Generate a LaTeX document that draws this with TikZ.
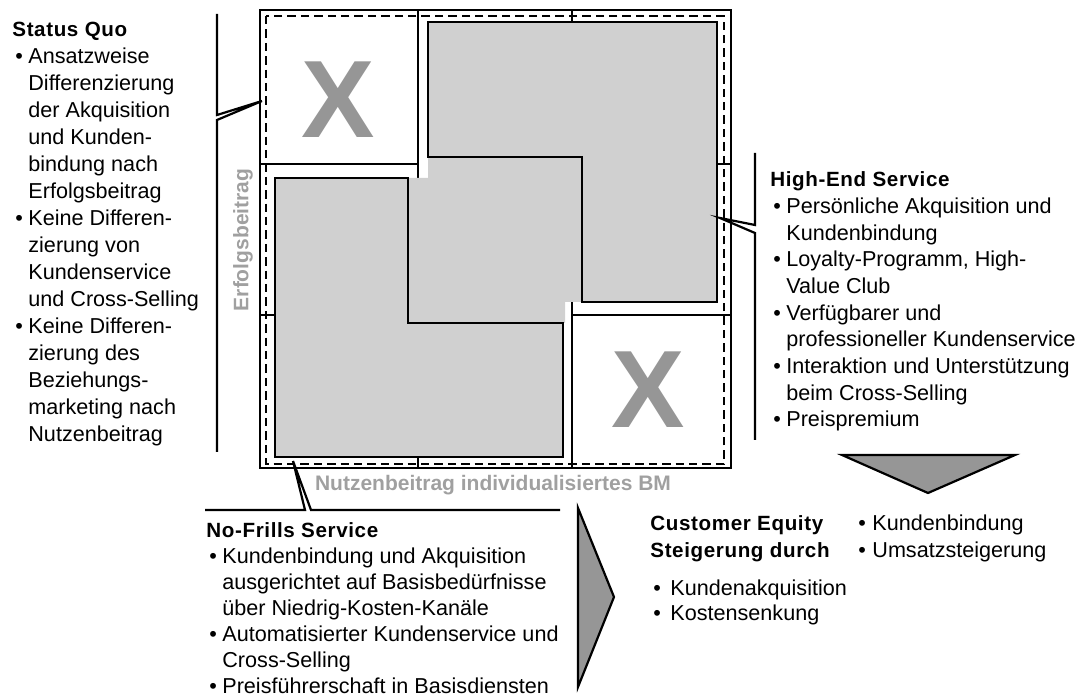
\documentclass[tikz,border=0pt]{standalone}
\usepackage{fontspec}
\setmainfont{Liberation Sans}
\newfontfamily\headfont{Liberation Sans}[LetterSpace=3]
\usetikzlibrary{positioning}
\definecolor{segfill}{RGB}{208,208,208}
\definecolor{markgray}{RGB}{150,150,150}
\definecolor{axisgray}{RGB}{160,160,160}
\definecolor{arrowgray}{RGB}{150,150,150}
\tikzset{
  % base anchor of a multi-line node sits on its last line
  txt/.style={anchor=base west, inner sep=0pt, align=left,
              font=\fontsize{10.8}{13.5}\selectfont},
  frame/.style={line width=1.1pt},
  gridline/.style={line width=0.9pt},
  dashframe/.style={line width=1.2pt, dash pattern=on 4.2pt off 2.5pt},
  segment/.style={draw, fill=segfill, line width=1.2pt},
  xmark/.style={font=\fontsize{55}{55}\selectfont\bfseries, text=markgray, inner sep=0pt},
  axislabel/.style={font=\fontsize{10.5}{12}\selectfont\bfseries, text=axisgray, inner sep=0pt},
  bracket/.style={line width=1.1pt},
  bigarrow/.style={draw, fill=arrowgray, line width=1.1pt, line join=miter},
}
\newcommand{\hd}[1]{{\headfont\bfseries\fontsize{10.3}{13.5}\selectfont #1}}
\newcommand{\bl}{\hspace*{1.5pt}\makebox[6.5pt][l]{\textbullet}}
\newcommand{\cl}{\hspace*{8pt}}

\begin{document}
\begin{tikzpicture}[x=0.5pt, y=-0.5pt]
  \useasboundingbox (0,0) rectangle (1091,699);

  % --- portfolio frame and 3x3 grid ---
  \draw[frame] (260,10) rectangle (731,468);
  \draw[gridline] (418,10) -- (418,178)  (418,457) -- (418,468)
                  (572,10) -- (572,22)   (572,302) -- (572,468)
                  (260,164) -- (418,164) (717,164) -- (731,164)
                  (260,315) -- (275,315) (572,315) -- (731,315);
  \draw[dashframe] (266,16) rectangle (724,464);

  % --- service segments ---
  \fill[segfill] (428,157) -- (582,157) -- (582,302) -- (565,302) -- (565,323)
                 -- (408,323) -- (408,178) -- (428,178) -- cycle;
  \draw[segment] (428,22) -- (717,22) -- (717,302) -- (582,302) -- (582,157)
                 -- (428,157) -- cycle;
  \draw[segment] (275,178) -- (408,178) -- (408,323) -- (563,323) -- (563,457)
                 -- (275,457) -- cycle;
  \node[xmark] (xtl) at (338,100) {X};
  \node[xmark] (xbr) at (648,390) {X};

  % --- axes ---
  \node[axislabel] (xlab) at (493,485) {Nutzenbeitrag individualisiertes BM};
  \node[axislabel, rotate=90] (ylab) at (243,240) {Erfolgsbeitrag};

  % --- Status Quo ---
  \node[txt] (sq) at (12,442) {\hd{Status Quo}\\
    \bl Ansatzweise\\
    \cl Differenzierung\\
    \cl der Akquisition\\
    \cl und Kunden-\\
    \cl bindung nach\\
    \cl Erfolgsbeitrag\\
    \bl Keine Differen-\\
    \cl zierung von\\
    \cl Kundenservice\\
    \cl und Cross-Selling\\
    \bl Keine Differen-\\
    \cl zierung des\\
    \cl Beziehungs-\\
    \cl marketing nach\\
    \cl Nutzenbeitrag};
  \coordinate (sqtop) at (217,14);
  \coordinate (sqtip) at (262,101);
  \coordinate (sqbot) at (217,452);
  \draw[bracket] (sqtop) -- (sqtop |- 0,115) -- (sqtip) -- (sqbot |- 0,120) -- (sqbot);

  % --- High-End Service ---
  \node[txt, font=\fontsize{10.8}{13.35}\selectfont] (he) at (770,427) {\hd{High-End Service}\\
    \bl Persönliche Akquisition und\\
    \cl Kundenbindung\\
    \bl Loyalty-Programm, High-\\
    \cl Value Club\\
    \bl Verfügbarer und\\
    \cl professioneller Kundenservice\\
    \bl Interaktion und Unterstützung\\
    \cl beim Cross-Selling\\
    \bl Preispremium};
  \coordinate (hetop) at (755,153);
  \coordinate (hetip) at (720,218);
  \coordinate (hebot) at (755,440);
  \draw[bracket] (hetop) -- (hetop |- 0,225) -- (hetip) -- (hebot |- 0,233) -- (hebot);

  % --- No-Frills Service ---
  \node[txt, font=\fontsize{10.8}{13.0}\selectfont] (nf) at (206,693) {\hd{No-Frills Service}\\
    \bl Kundenbindung und Akquisition\\
    \cl ausgerichtet auf Basisbedürfnisse\\
    \cl über Niedrig-Kosten-Kanäle\\
    \bl Automatisierter Kundenservice und\\
    \cl Cross-Selling\\
    \bl Preisführerschaft in Basisdiensten};
  \coordinate (nfleft) at (205,510);
  \coordinate (nftip) at (293,461);
  \coordinate (nfright) at (560,510);
  \draw[bracket] (nfleft) -- (305,510) -- (nftip) -- (311,510) -- (nfright);

  % --- Customer Equity ---
  \draw[bigarrow] (578,508) -- (614,597) -- (578,687) -- cycle;
  \draw[bigarrow] (842,455) -- (1015,455) -- (928,493) -- cycle;
  \node[txt] (ce) at (650,557) {\hd{Customer Equity}\\\hd{Steigerung durch}};
  \node[txt] (cegain) at (858,557) {\makebox[7pt][l]{\textbullet}Kundenbindung\\
    \makebox[7pt][l]{\textbullet}Umsatzsteigerung};
  \node[txt, font=\fontsize{10.8}{12.5}\selectfont] (cecost) at (653,620)
    {\makebox[8.5pt][l]{\textbullet}Kundenakquisition\\
     \makebox[8.5pt][l]{\textbullet}Kostensenkung};
\end{tikzpicture}
\end{document}
